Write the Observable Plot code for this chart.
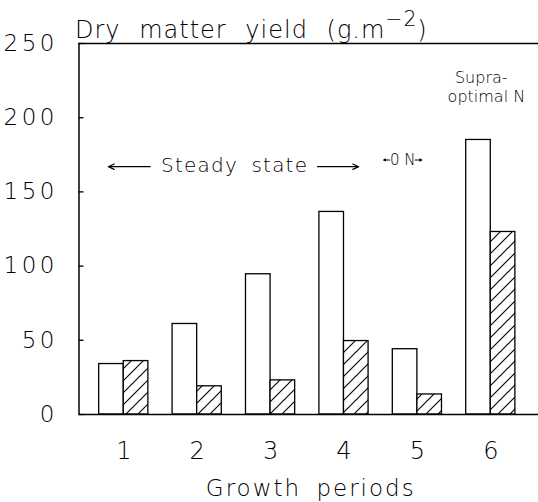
<!DOCTYPE html>
<html><head><meta charset="utf-8">
<script src="https://cdn.jsdelivr.net/npm/d3@7"></script>
<script src="https://cdn.jsdelivr.net/npm/@observablehq/plot@0.6"></script>
<style>
body{margin:0;background:#fff;}
svg{font-family:"DejaVu Sans",sans-serif;font-weight:200;}
g[aria-label="y-axis tick label"]{letter-spacing:3.5px;}
</style></head><body><div id="chart"></div>
<script>
// ---- data ----
const periods = [1, 2, 3, 4, 5, 6];
const openYield = [34, 61, 94.5, 136.5, 44, 185];
const hatchedYield = [36, 19, 23, 49.5, 13.5, 123];
const yTicks = [0, 50, 100, 150, 200, 250];
const xTickLabels = ["1", "2", "3", "4", "5", "6"];
const xTitle = "Growth periods";
const yTitle = "Dry matter yield (g.m";
const noteTexts = ["Steady state", "0 N", "Supra-", "optimal N"];
const noteX = [2.51, 4.80, 5.87, 5.94];
const noteY = [167.5, 171.5, 227, 214];
const noteSize = [20, 15, 16, 16];
const arrowFrom = [1.36, 3.64, 4.62, 4.97];
const arrowTo = [0.79, 4.20, 4.54, 5.06];
const arrowY = [167, 167, 171.5, 171.5];
const arrowHead = [8, 8, 5, 5];

// ---- layout ----
const W = 538, H = 502;
const xDomain = [0.39, 6.65];
const half = 0.335;

const openBars = periods.map((p, i) => ({x1: p - half, x2: p, value: openYield[i]}));
const hatchBars = periods.map((p, i) => ({x1: p, x2: p + half, value: hatchedYield[i]}));
const notes = noteTexts.map((t, i) => ({text: t, x: noteX[i], y: noteY[i], size: noteSize[i]}));
const arrows = arrowFrom.map((a, i) => ({x1: a, x2: arrowTo[i], y: arrowY[i], head: arrowHead[i]}));

const svg = Plot.plot({
  width: W, height: H,
  marginLeft: 78.5, marginRight: 0, marginTop: 43, marginBottom: 88,
  x: {type: "linear", domain: xDomain},
  y: {domain: [0, 250]},
  marks: [
    Plot.rectY(openBars, {x1: "x1", x2: "x2", y: "value", fill: "white", stroke: "black", strokeWidth: 1.3}),
    Plot.rectY(hatchBars, {x1: "x1", x2: "x2", y: "value", fill: "url(#hatch)", stroke: "black", strokeWidth: 1.3}),
    Plot.ruleY([0, 250], {stroke: "black", strokeWidth: 1.5}),
    Plot.ruleX([xDomain[0]], {stroke: "black", strokeWidth: 1.5}),
    Plot.axisY(yTicks, {anchor: "left", tickSize: 5, dx: 5, tickPadding: 21, fontSize: 23, label: null, stroke: "black", strokeWidth: 1.3}),
    Plot.axisX(periods, {anchor: "bottom", tickSize: 0, tickPadding: 27, fontSize: 24, label: null, tickFormat: (d, i) => xTickLabels[i]}),
    Plot.text([xTitle], {frameAnchor: "bottom", dy: 74, dx: 2, fontSize: 23, lineAnchor: "middle", fill: "black"}),
    Plot.text([yTitle], {frameAnchor: "top-left", textAnchor: "start", lineAnchor: "bottom", dx: -4, dy: -6, fontSize: 24, fill: "black"}),
    Plot.text(notes, {x: "x", y: "y", text: "text", fontSize: d => d.size, fill: "black"}),
    ...arrows.map(a => Plot.arrow([a], {x1: "x1", x2: "x2", y1: "y", y2: "y", headLength: a.head, headAngle: 50, stroke: "black", strokeWidth: 1.2}))
  ]
});

// hatch pattern
const s = d3.select(svg);
const pat = s.insert("defs", ":first-child").append("pattern")
  .attr("id", "hatch").attr("patternUnits", "userSpaceOnUse")
  .attr("width", 12).attr("height", 12);
pat.append("rect").attr("width", 12).attr("height", 12).attr("fill", "white");
pat.append("path").attr("d", "M0,12L12,0M-3,3L3,-3M9,15L15,9")
  .attr("stroke", "black").attr("stroke-width", 1.1);

// superscript in title
s.selectAll("text").filter(function(){ return this.textContent === yTitle; }).each(function(){
  const t = d3.select(this);
  t.style("word-spacing", "10px").style("letter-spacing", "1px");
  t.append("tspan").attr("dy", -12).attr("font-size", "0.85em").text("−2");
  t.append("tspan").attr("dy", 12).text(")");
});
s.selectAll("text").filter(function(){ return this.textContent === xTitle; })
  .style("letter-spacing", "2px").style("word-spacing", "6px");
s.selectAll("text").filter(function(){ return this.textContent === "Steady state"; })
  .style("letter-spacing", "1.2px").style("word-spacing", "6px");

document.getElementById("chart").appendChild(svg);
</script></body></html>
